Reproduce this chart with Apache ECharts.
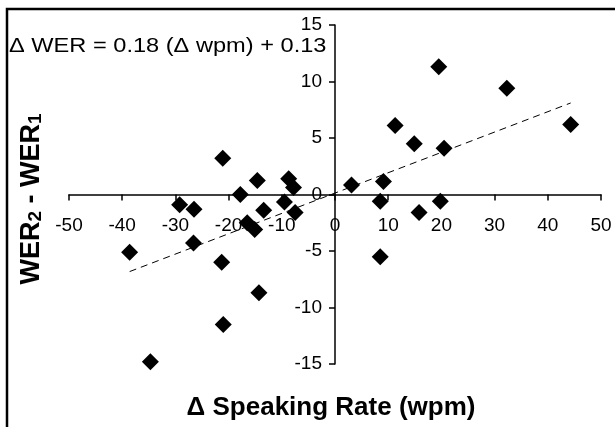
<!DOCTYPE html>
<html>
<head>
<meta charset="utf-8">
<script src="https://cdn.jsdelivr.net/npm/echarts@6/dist/echarts.min.js"></script>
<style>
html,body{margin:0;padding:0;background:#fff;}
#chart{width:615px;height:427px;}
</style>
</head>
<body>
<div id="chart"></div>
<script>
// Δ speaking rate (wpm) and WER2 - WER1 for each speaker
var deltaWpm = [-38.6, -34.7, -29.2, -26.5, -26.6, -21.1, -21.3, -21.0, -17.8, -16.5, -15.1, -14.6, -13.4, -14.3, -9.5, -8.7, -7.8, -7.5,
                3.1, 9.1, 8.5, 8.5, 11.3, 14.9, 15.8, 19.5, 19.8, 20.5, 32.3, 44.3];
var deltaWer = [-5.1, -14.8, -0.9, -1.3, -4.3, 3.2, -6.0, -11.5, 0.0, -2.5, -3.1, 1.25, -1.4, -8.7, -0.67, 1.4, 0.62, -1.6,
                0.85, 1.15, -0.6, -5.5, 6.1, 4.5, -1.6, 11.3, -0.6, 4.1, 9.4, 6.2];
// trend line end points
var trendX = [-38.6, 44.3];
var trendY = [-6.82, 8.10];
var xTicks = [-50, -40, -30, -20, -10, 0, 10, 20, 30, 40, 50];
var yTicks = [-15, -10, -5, 0, 5, 10, 15];
var equationText = '\u0394 WER = 0.18 (\u0394 wpm) + 0.13';
var xTitle = '\u0394 Speaking Rate (wpm)';

var points = deltaWpm.map(function (x, i) { return [x, deltaWer[i]]; });
var trend = trendX.map(function (x, i) { return [x, trendY[i]]; });

var W = 615, H = 427;
var gridL = 69, gridR = 14, gridT = 25, gridB = 63;
var font = 'Liberation Sans, Arial, sans-serif';

var chart = echarts.init(document.getElementById('chart'), null, {renderer: 'canvas'});
chart.setOption({
  animation: false,
  backgroundColor: '#fff',
  grid: {left: gridL, right: gridR, top: gridT, bottom: gridB, containLabel: false},
  xAxis: {
    type: 'value', min: xTicks[0], max: xTicks[xTicks.length - 1], interval: 10,
    splitLine: {show: false},
    axisLine: {onZero: false, lineStyle: {color: '#000', width: 1.5}},
    axisTick: {show: true, length: 6, lineStyle: {color: '#000', width: 1.5}},
    axisLabel: {color: '#000', fontSize: 19, fontFamily: font, margin: 22}
  },
  yAxis: {
    type: 'value', min: yTicks[0], max: yTicks[yTicks.length - 1], interval: 5,
    splitLine: {show: false},
    axisLine: {onZero: false, lineStyle: {color: '#000', width: 1.5}},
    axisTick: {show: true, length: 6, lineStyle: {color: '#000', width: 1.5}},
    axisLabel: {color: '#000', fontSize: 19, fontFamily: font, margin: 13}
  },
  series: [
    {
      type: 'line', data: trend, symbol: 'none', silent: true,
      lineStyle: {color: '#000', width: 1, type: [7, 5]}, z: 2
    },
    {
      type: 'scatter', data: points, symbol: 'diamond', symbolSize: 17,
      itemStyle: {color: '#000', opacity: 1}, z: 3
    }
  ],
  graphic: [
    {
      type: 'polyline', silent: true,
      shape: {points: [[7, 440], [7, 9], [630, 9]]},
      style: {stroke: '#000', lineWidth: 2.5, fill: null}
    },
    {
      type: 'text', x: 9, y: 36, scaleX: 1.18,
      style: {text: equationText, font: '20px ' + font, fill: '#000'}
    },
    {
      type: 'text', x: 331, y: 408,
      style: {text: xTitle, font: 'bold 26px ' + font, fill: '#000', textAlign: 'center', textVerticalAlign: 'middle'}
    },
    {
      type: 'text', x: 32, y: 199, rotation: Math.PI / 2,
      style: {
        text: '{b|WER}{s|2}{b| - WER}{s|1}',
        textAlign: 'center', textVerticalAlign: 'middle',
        rich: {
          b: {font: 'bold 27px ' + font, fill: '#000', color: '#000', verticalAlign: 'bottom'},
          s: {font: 'bold 19px ' + font, fill: '#000', color: '#000', verticalAlign: 'bottom'}
        }
      }
    }
  ]
});

// move the axes so that they cross at zero (labels travel with them)
var origin = chart.convertToPixel({gridIndex: 0}, [0, 0]);
chart.setOption({
  xAxis: {offset: origin[1] - (H - gridB)},
  yAxis: {offset: gridL - origin[0]}
});
</script>
</body>
</html>
